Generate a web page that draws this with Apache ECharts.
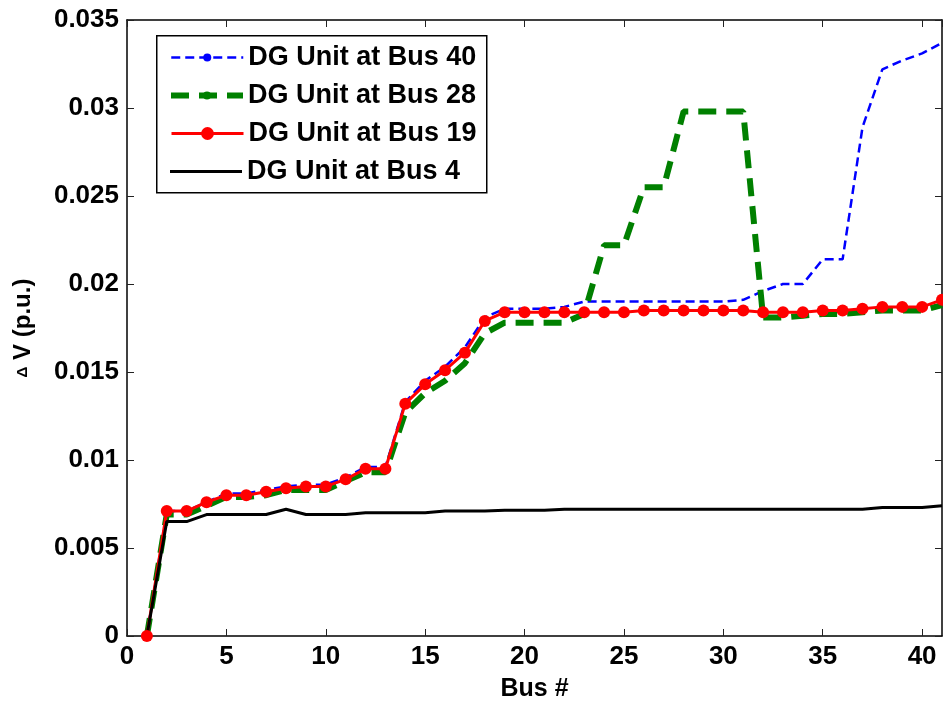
<!DOCTYPE html>
<html>
<head>
<meta charset="utf-8">
<script src="https://cdn.jsdelivr.net/npm/echarts@6/dist/echarts.min.js"></script>
<style>
html,body{margin:0;padding:0;background:#fff;}
#chart{width:943px;height:704px;}
</style>
</head>
<body>
<div id="chart"></div>
<script>
const buses = [1,2,3,4,5,6,7,8,9,10,11,12,13,14,15,16,17,18,19,20,21,22,23,24,25,26,27,28,29,30,31,32,33,34,35,36,37,38,39,40,41];

const dgBus40 = [0,0.0071,0.0071,0.0076,0.0081,0.0081,0.0083,0.0085,0.0086,0.0086,0.0090,0.0096,0.0096,0.0133,0.0145,0.0153,0.0164,0.0181,0.0186,0.0186,0.0186,0.0187,0.0190,0.0190,0.0190,0.0190,0.0190,0.0190,0.0190,0.0190,0.0191,0.0196,0.0200,0.0200,0.0214,0.0214,0.0289,0.0322,0.0327,0.0331,0.0337];

const dgBus28 = [0,0.0069,0.0069,0.0074,0.0079,0.0079,0.0080,0.0083,0.0083,0.0083,0.0088,0.0093,0.0093,0.0127,0.0138,0.0145,0.0155,0.0172,0.0178,0.0178,0.0178,0.0178,0.0183,0.0222,0.0222,0.0255,0.0255,0.0298,0.0298,0.0298,0.0298,0.0181,0.0181,0.0182,0.0183,0.0183,0.0184,0.0185,0.0185,0.0185,0.0188];

const dgBus19 = [0,0.0071,0.0071,0.0076,0.0080,0.0080,0.0082,0.0084,0.0085,0.0085,0.0089,0.0095,0.0095,0.0132,0.0143,0.0151,0.0161,0.0179,0.0184,0.0184,0.0184,0.0184,0.0184,0.0184,0.0184,0.0185,0.0185,0.0185,0.0185,0.0185,0.0185,0.0184,0.0184,0.0184,0.0185,0.0185,0.0186,0.0187,0.0187,0.0187,0.0191];

const dgBus4 = [0,0.0065,0.0065,0.0069,0.0069,0.0069,0.0069,0.0072,0.0069,0.0069,0.0069,0.0070,0.0070,0.0070,0.0070,0.0071,0.0071,0.0071,0.00715,0.00715,0.00715,0.0072,0.0072,0.0072,0.0072,0.0072,0.0072,0.0072,0.0072,0.0072,0.0072,0.0072,0.0072,0.0072,0.0072,0.0072,0.0072,0.0073,0.0073,0.0073,0.0074];

const seriesNames = ['DG Unit at Bus 40','DG Unit at Bus 28','DG Unit at Bus 19','DG Unit at Bus 4'];
const xTicks = [0,5,10,15,20,25,30,35,40];
const yTicks = [0,0.005,0.01,0.015,0.02,0.025,0.03,0.035];

const FONT = '"Liberation Sans", Arial, Helvetica, sans-serif';
const pairs = arr => buses.map((b,i)=>[b, arr[i]]);

const chart = echarts.init(document.getElementById('chart'), null, {renderer:'canvas'});

const axisCommon = {
  axisLine:{show:true, onZero:false, lineStyle:{color:'#000', width:1.5}},
  axisTick:{show:true, inside:true, length:7, lineStyle:{color:'#222', width:1}},
  splitLine:{show:false}
};

const legendFont = {fontFamily:FONT, fontWeight:'bold', fontSize:27, color:'#000'};

const option = {
  backgroundColor:'#fff',
  animation:false,
  grid:{left:127, right:1, top:20, bottom:68, containLabel:false, outerBoundsMode:'none'},
  xAxis:[
    Object.assign({
      type:'value', min:0, max:41, interval:5, position:'bottom',
      name:'Bus #', nameLocation:'middle', nameGap:41,
      nameTextStyle:{fontFamily:FONT, fontWeight:'bold', fontSize:25, color:'#000'},
      axisLabel:{show:true, margin:8, showMaxLabel:false, color:'#000', fontFamily:FONT, fontWeight:'bold', fontSize:26,
        formatter: v => xTicks.indexOf(v) >= 0 ? String(v) : ''}
    }, axisCommon),
    Object.assign({
      type:'value', min:0, max:41, interval:5, position:'top',
      axisLabel:{show:false}
    }, axisCommon)
  ],
  yAxis:[
    Object.assign({
      type:'value', min:0, max:0.035, interval:0.005, position:'left',
      name:'{d|Δ} V (p.u.)', nameLocation:'middle', nameGap:92, nameRotate:90,
      nameTextStyle:{fontFamily:FONT, fontWeight:'bold', fontSize:24, color:'#000',
        rich:{d:{fontFamily:FONT, fontWeight:'bold', fontSize:15, color:'#000'}}},
      axisLabel:{show:true, margin:8, color:'#000', fontFamily:FONT, fontWeight:'bold', fontSize:26,
        formatter: v => { const t = yTicks.find(k => Math.abs(k - v) < 1e-9); return t === undefined ? '' : String(t); }}
    }, axisCommon),
    Object.assign({
      type:'value', min:0, max:0.035, interval:0.005, position:'right',
      axisLabel:{show:false}
    }, axisCommon)
  ],
  legend:[
    {data:[seriesNames[0]], left:170, top:44, orient:'vertical', padding:0, itemWidth:72, itemHeight:10, itemGap:0, textStyle:legendFont,
     lineStyle:{width:2.5}},
    {data:[seriesNames[1]], left:168, top:82, orient:'vertical', padding:0, itemWidth:72, itemHeight:10, itemGap:0, textStyle:legendFont,
     lineStyle:{width:6}},
    {data:[seriesNames[2]], left:170, top:120, orient:'vertical', padding:0, itemWidth:72, itemHeight:16, itemGap:0, textStyle:legendFont,
     lineStyle:{width:3}},
    {data:[{name:seriesNames[3], icon:'rect'}], left:170, top:158, orient:'vertical', padding:0, itemWidth:72, itemHeight:3, itemGap:0, textStyle:legendFont}
  ],
  graphic:[
    {type:'rect', left:156, top:35, z:0, shape:{width:330, height:157},
     style:{fill:'#fff', stroke:'#000', lineWidth:1.5}}
  ],
  series:[
    {name:seriesNames[0], type:'line', data:pairs(dgBus40), symbol:'none', z:3,
     lineStyle:{color:'#0000ff', width:2.5, type:[9,5]}, itemStyle:{color:'#0000ff'}},
    {name:seriesNames[1], type:'line', data:pairs(dgBus28), symbol:'none', z:3,
     lineStyle:{color:'#008000', width:6, type:[18,10]}, itemStyle:{color:'#008000'}},
    {name:seriesNames[2], type:'line', data:pairs(dgBus19), symbol:'circle', symbolSize:12, showSymbol:true, z:3,
     lineStyle:{color:'#ff0000', width:3}, itemStyle:{color:'#ff0000'}},
    {name:seriesNames[3], type:'line', data:pairs(dgBus4), symbol:'none', z:3,
     lineStyle:{color:'#000000', width:3}, itemStyle:{color:'#000000'}}
  ]
};
chart.setOption(option);
</script>
</body>
</html>
